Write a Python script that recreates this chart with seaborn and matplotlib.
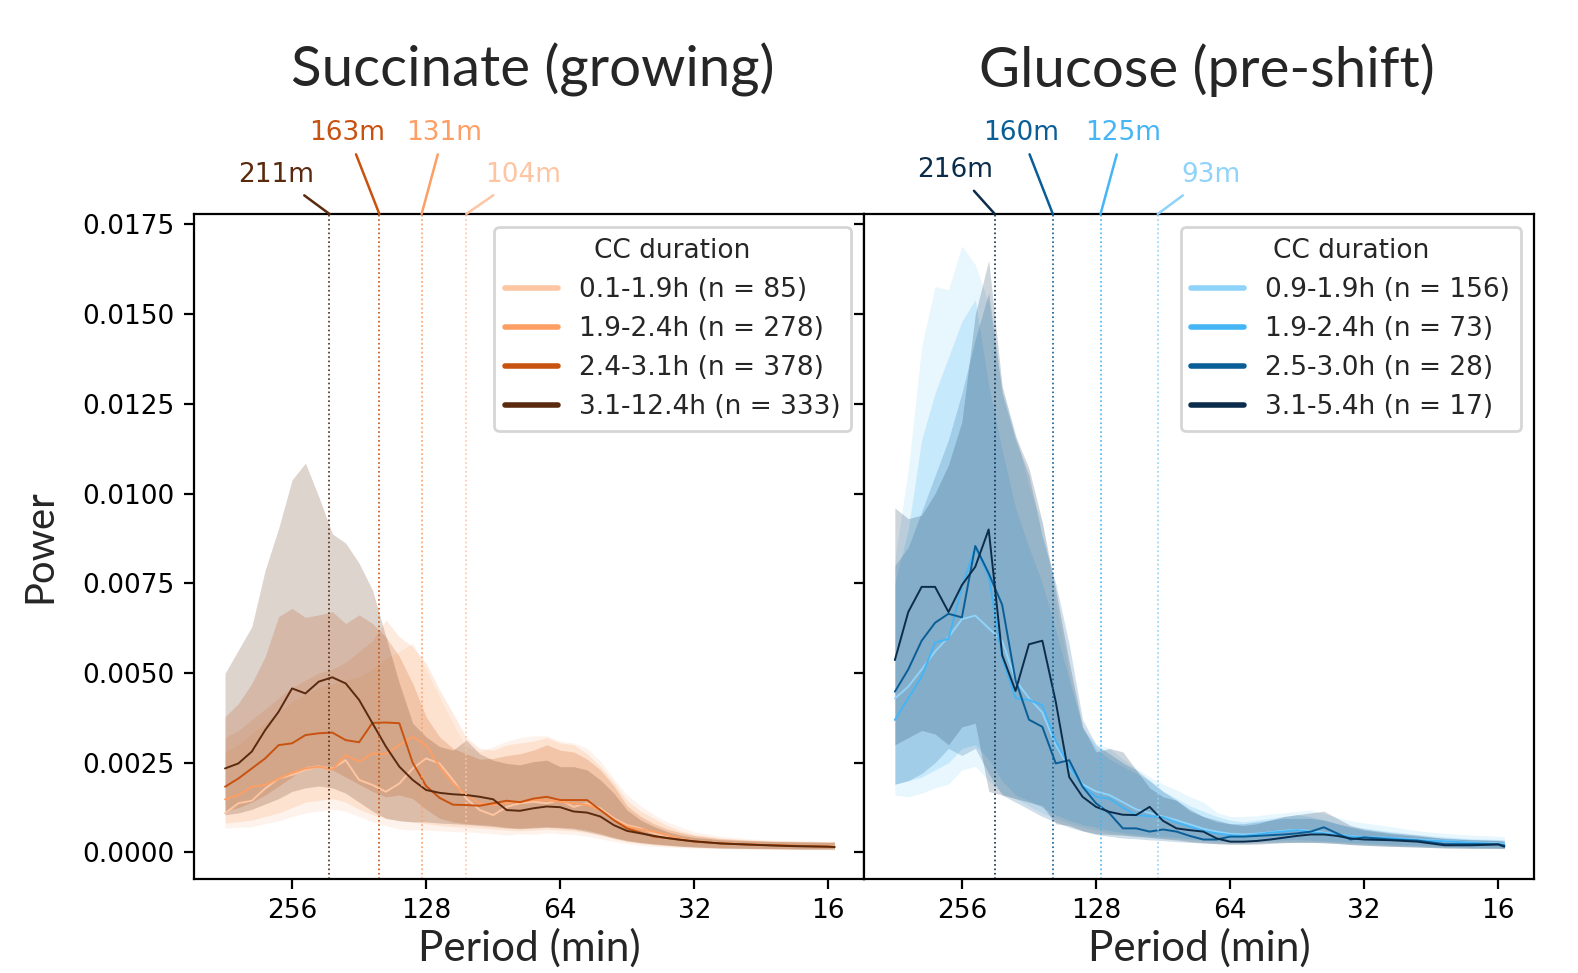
import numpy as np
import pandas as pd
import matplotlib
matplotlib.use("Agg")
import matplotlib.pyplot as plt
import seaborn as sns
from matplotlib.lines import Line2D
from matplotlib.ticker import FixedLocator, NullLocator, FormatStrFormatter

# ---------------- data (power values in units of 1e-3) ----------------
SCALE = 1e-3
periods = [362.0, 337.8, 315.2, 294.1, 274.4, 256.0, 238.9, 222.9, 207.9, 194.0,
           181.0, 168.9, 157.6, 147.0, 137.2, 128.0, 119.4, 111.4, 104.0, 97.0,
           90.5, 84.4, 78.8, 73.5, 68.6, 64.0, 59.7, 55.7, 52.0, 48.5,
           45.3, 42.2, 39.4, 36.8, 34.3, 32.0, 27.9, 24.3, 21.1, 18.4, 16.0, 15.5]
xticks = [256, 128, 64, 32, 16]

# Succinate (growing)
suc_labels = ["0.1-1.9h (n = 85)", "1.9-2.4h (n = 278)", "2.4-3.1h (n = 378)", "3.1-12.4h (n = 333)"]
suc_colors = ["#fdc5a2", "#fd9f64", "#c8520f", "#5a2a0e"]
suc_peaks = [104, 131, 163, 211]

s1_mean = [1.09, 1.37, 1.44, 1.78, 2.06, 2.16, 2.30, 2.39, 2.34, 2.57, 2.02, 1.88, 1.69, 1.92, 2.34, 2.62, 2.48, 2.02, 1.50, 1.18,
           1.04, 1.27, 1.37, 1.41, 1.37, 1.46, 1.27, 1.37, 1.23, 0.95, 0.76, 0.67, 0.53, 0.42, 0.35, 0.31, 0.26, 0.23, 0.20, 0.18, 0.17, 0.16]
s1_hi = [2.80, 3.00, 3.30, 3.60, 3.90, 4.20, 4.40, 4.60, 4.70, 4.80, 4.90, 5.10, 5.40, 5.60, 5.83, 5.08, 4.33, 3.60, 2.94, 2.80,
         2.95, 3.10, 3.20, 3.25, 3.25, 3.10, 3.05, 2.90, 2.55, 2.05, 1.60, 1.30, 1.05, 0.85, 0.70, 0.58, 0.45, 0.38, 0.34, 0.32, 0.31, 0.31]
s1_lo = [0.68, 0.70, 0.72, 0.80, 0.88, 1.00, 1.10, 1.15, 1.20, 1.15, 1.00, 0.85, 0.75, 0.65, 0.62, 0.62, 0.60, 0.58, 0.57, 0.55,
         0.52, 0.48, 0.52, 0.50, 0.55, 0.52, 0.50, 0.45, 0.38, 0.30, 0.25, 0.20, 0.17, 0.15, 0.13, 0.12, 0.10, 0.09, 0.08, 0.08, 0.07, 0.07]

s2_mean = [1.48, 1.60, 1.83, 1.88, 2.06, 2.22, 2.34, 2.39, 2.31, 2.71, 2.53, 2.76, 2.74, 2.99, 3.22, 2.99, 2.39, 1.92, 1.60, 1.37,
           1.32, 1.37, 1.41, 1.46, 1.46, 1.41, 1.37, 1.32, 1.18, 0.90, 0.72, 0.64, 0.58, 0.49, 0.38, 0.32, 0.26, 0.23, 0.20, 0.18, 0.17, 0.16]
s2_hi = [3.20, 3.40, 3.70, 4.00, 4.30, 4.60, 4.80, 5.00, 5.10, 5.30, 5.60, 5.90, 6.48, 6.01, 5.73, 5.27, 4.53, 3.88, 3.20, 2.90,
         2.85, 3.00, 3.05, 3.10, 3.20, 3.05, 3.00, 2.75, 2.40, 1.95, 1.45, 1.15, 0.95, 0.75, 0.60, 0.50, 0.40, 0.35, 0.32, 0.31, 0.30, 0.30]
s2_lo = [0.82, 0.85, 0.90, 1.00, 1.10, 1.25, 1.40, 1.45, 1.50, 1.40, 1.20, 1.05, 0.95, 0.90, 0.85, 0.80, 0.75, 0.72, 0.70, 0.68,
         0.65, 0.62, 0.60, 0.62, 0.65, 0.62, 0.60, 0.55, 0.47, 0.38, 0.30, 0.25, 0.21, 0.18, 0.16, 0.14, 0.12, 0.11, 0.10, 0.09, 0.09, 0.09]

s3_mean = [1.83, 2.06, 2.34, 2.62, 2.99, 3.04, 3.27, 3.32, 3.34, 3.13, 3.07, 3.61, 3.62, 3.60, 2.50, 1.85, 1.52, 1.33, 1.32, 1.30,
           1.37, 1.44, 1.40, 1.50, 1.55, 1.46, 1.46, 1.46, 1.18, 0.90, 0.67, 0.55, 0.44, 0.40, 0.35, 0.30, 0.25, 0.22, 0.20, 0.18, 0.16, 0.15]
s3_hi = [3.78, 4.15, 4.71, 5.46, 6.57, 6.80, 6.55, 6.62, 6.71, 6.38, 6.62, 6.38, 6.01, 5.46, 4.71, 3.78, 3.22, 2.90, 2.75, 2.60,
         2.62, 2.70, 2.75, 2.85, 3.00, 2.85, 2.80, 2.60, 2.30, 1.85, 1.30, 1.00, 0.80, 0.65, 0.55, 0.47, 0.38, 0.34, 0.31, 0.30, 0.29, 0.29]
s3_lo = [1.15, 1.25, 1.40, 1.60, 1.85, 2.10, 2.40, 2.45, 2.30, 2.10, 1.90, 1.70, 1.55, 1.60, 1.50, 1.20, 0.95, 0.85, 0.80, 0.78,
         0.75, 0.70, 0.68, 0.70, 0.72, 0.70, 0.68, 0.62, 0.53, 0.42, 0.34, 0.28, 0.24, 0.21, 0.18, 0.16, 0.13, 0.12, 0.11, 0.10, 0.10, 0.10]

s4_mean = [2.34, 2.48, 2.81, 3.41, 3.92, 4.57, 4.43, 4.76, 4.88, 4.71, 4.25, 3.60, 2.95, 2.39, 2.02, 1.74, 1.66, 1.62, 1.60, 1.55,
           1.48, 1.18, 1.16, 1.23, 1.28, 1.26, 1.14, 1.11, 1.00, 0.76, 0.60, 0.53, 0.46, 0.40, 0.35, 0.31, 0.25, 0.22, 0.19, 0.17, 0.16, 0.15]
s4_hi = [4.99, 5.64, 6.29, 7.87, 9.03, 10.38, 10.85, 9.91, 8.88, 8.62, 8.06, 7.31, 6.01, 4.71, 3.60, 3.22, 2.95, 2.85, 3.13, 2.75,
         2.57, 2.48, 2.44, 2.53, 2.57, 2.39, 2.39, 2.30, 2.02, 1.65, 1.18, 0.90, 0.72, 0.58, 0.48, 0.42, 0.35, 0.32, 0.30, 0.29, 0.28, 0.28]
s4_lo = [1.05, 1.10, 1.20, 1.35, 1.50, 1.70, 1.80, 1.85, 1.80, 1.65, 1.40, 1.15, 0.95, 0.88, 0.85, 0.85, 0.82, 0.80, 0.78, 0.75,
         0.72, 0.68, 0.66, 0.68, 0.70, 0.68, 0.65, 0.58, 0.50, 0.40, 0.32, 0.27, 0.23, 0.20, 0.17, 0.15, 0.12, 0.11, 0.10, 0.09, 0.09, 0.09]

# Glucose (pre-shift)
glu_labels = ["0.9-1.9h (n = 156)", "1.9-2.4h (n = 73)", "2.5-3.0h (n = 28)", "3.1-5.4h (n = 17)"]
glu_colors = ["#8fd3fa", "#45b5f5", "#0a5e98", "#0b2d4b"]
glu_peaks = [93, 125, 160, 216]

g1_mean = [4.29, 4.62, 5.10, 5.60, 6.00, 6.50, 6.60, 6.25, 5.90, 4.80, 4.30, 3.90, 3.00, 2.35, 1.90, 1.70, 1.60, 1.40, 1.20, 1.10,
           1.00, 0.90, 0.78, 0.66, 0.58, 0.52, 0.50, 0.52, 0.56, 0.60, 0.63, 0.60, 0.55, 0.50, 0.45, 0.43, 0.40, 0.36, 0.32, 0.28, 0.25, 0.23]
g1_hi = [8.15, 10.66, 14.1, 15.77, 15.68, 16.9, 16.38, 15.3, 12.9, 11.68, 10.2, 9.17, 7.0, 5.0, 3.4, 3.04, 2.9, 2.6, 2.35, 2.1,
         1.9, 1.74, 1.55, 1.4, 1.12, 1.0, 1.0, 1.02, 1.07, 1.1, 1.14, 1.18, 1.08, 0.98, 0.88, 0.82, 0.72, 0.6, 0.53, 0.48, 0.45, 0.44]
g1_lo = [1.6, 1.55, 1.65, 1.8, 1.9, 2.3, 2.4, 2.0, 1.65, 1.5, 1.3, 1.1, 0.95, 0.82, 0.7, 0.62, 0.55, 0.5, 0.45, 0.42,
         0.4, 0.37, 0.35, 0.33, 0.3, 0.3, 0.3, 0.3, 0.3, 0.3, 0.3, 0.3, 0.3, 0.28, 0.26, 0.24, 0.2, 0.17, 0.15, 0.13, 0.12, 0.12]

g2_mean = [3.69, 4.30, 4.90, 5.85, 5.95, 7.40, 8.50, 7.70, 5.40, 4.30, 4.25, 4.10, 3.10, 2.40, 1.85, 1.55, 1.50, 1.25, 1.04, 1.01,
           0.98, 0.83, 0.72, 0.60, 0.53, 0.48, 0.46, 0.50, 0.55, 0.58, 0.62, 0.57, 0.53, 0.49, 0.44, 0.42, 0.40, 0.34, 0.31, 0.27, 0.23, 0.21]
g2_hi = [7.5, 9.0, 11.5, 12.8, 13.8, 14.8, 15.4, 13.0, 11.2, 9.6, 8.5, 7.5, 6.2, 4.8, 3.5, 2.9, 2.6, 2.4, 2.2, 2.0,
         1.7, 1.5, 1.3, 1.15, 1.0, 0.9, 0.85, 0.9, 0.95, 1.0, 1.05, 1.0, 0.9, 0.8, 0.72, 0.68, 0.58, 0.5, 0.43, 0.38, 0.36, 0.35]
g2_lo = [1.9, 2.0, 2.1, 2.3, 2.5, 2.9, 3.0, 2.6, 2.0, 1.6, 1.45, 1.25, 1.05, 0.9, 0.78, 0.7, 0.62, 0.55, 0.5, 0.47,
         0.45, 0.42, 0.38, 0.35, 0.33, 0.32, 0.32, 0.33, 0.34, 0.35, 0.36, 0.34, 0.32, 0.3, 0.28, 0.26, 0.22, 0.19, 0.17, 0.15, 0.14, 0.14]

g3_mean = [4.48, 5.10, 5.90, 6.40, 6.65, 6.55, 8.54, 7.78, 6.90, 4.80, 3.70, 3.50, 2.48, 2.57, 1.83, 1.37, 1.09, 0.67, 0.67, 0.58,
           0.64, 0.58, 0.46, 0.36, 0.36, 0.44, 0.44, 0.46, 0.48, 0.50, 0.53, 0.58, 0.70, 0.53, 0.36, 0.42, 0.36, 0.33, 0.23, 0.23, 0.23, 0.19]
g3_hi = [8.0, 8.5, 9.5, 10.5, 11.5, 12.8, 14.3, 15.6, 12.8, 11.5, 10.5, 8.8, 7.5, 5.8, 3.7, 3.0, 2.75, 2.5, 2.3, 2.0,
         1.7, 1.45, 1.15, 1.0, 0.85, 0.8, 0.8, 0.85, 0.9, 0.95, 0.95, 0.95, 0.9, 0.8, 0.7, 0.62, 0.52, 0.45, 0.4, 0.36, 0.34, 0.33]
g3_lo = [1.9, 2.0, 2.2, 2.5, 2.9, 2.7, 2.9, 2.2, 1.6, 1.4, 1.2, 1.0, 0.85, 0.7, 0.6, 0.5, 0.45, 0.4, 0.38, 0.35,
         0.33, 0.3, 0.28, 0.26, 0.25, 0.25, 0.25, 0.26, 0.27, 0.28, 0.28, 0.28, 0.27, 0.25, 0.22, 0.2, 0.17, 0.15, 0.13, 0.12, 0.11, 0.11]

g4_mean = [5.36, 6.70, 7.40, 7.40, 6.70, 7.45, 7.96, 9.00, 5.50, 4.50, 5.80, 5.90, 4.20, 2.10, 1.55, 1.27, 1.13, 1.05, 1.04, 1.27,
           0.88, 0.67, 0.62, 0.58, 0.39, 0.30, 0.30, 0.32, 0.36, 0.41, 0.46, 0.50, 0.50, 0.46, 0.39, 0.36, 0.34, 0.30, 0.20, 0.20, 0.22, 0.16]
g4_hi = [9.6, 9.3, 9.4, 10.0, 10.8, 12.0, 15.0, 16.5, 13.0, 11.6, 10.7, 9.2, 7.3, 5.3, 3.5, 2.8, 2.9, 2.8, 2.3, 1.8,
         1.55, 1.45, 1.2, 1.0, 0.9, 0.8, 0.75, 0.8, 0.9, 1.0, 1.05, 1.1, 1.15, 0.95, 0.75, 0.65, 0.55, 0.48, 0.38, 0.35, 0.33, 0.30]
g4_lo = [3.0, 3.2, 3.4, 3.3, 3.0, 3.5, 3.6, 1.7, 1.6, 1.5, 1.4, 1.3, 0.8, 0.75, 0.6, 0.52, 0.5, 0.48, 0.45, 0.42,
         0.38, 0.35, 0.3, 0.27, 0.24, 0.22, 0.22, 0.23, 0.25, 0.27, 0.28, 0.28, 0.27, 0.25, 0.22, 0.2, 0.17, 0.15, 0.12, 0.11, 0.11, 0.10]

# ---------------- style ----------------
sns.set_theme(style="ticks")
plt.rcParams["font.family"] = ["DejaVu Sans"]
plt.rcParams.update({
    "font.size": 9.5, "xtick.labelsize": 9.5, "ytick.labelsize": 9.5,
    "legend.fontsize": 9.5, "legend.title_fontsize": 9.5,
    "axes.linewidth": 0.8, "axes.edgecolor": "black",
    "xtick.major.size": 3.5, "ytick.major.size": 3.5,
    "xtick.major.width": 0.8, "ytick.major.width": 0.8,
    "xtick.major.pad": 3.5, "ytick.major.pad": 3.5,
    "xtick.color": "black", "ytick.color": "black",
})
HEAD_FONT = ["Lato", "DejaVu Sans"]

fig, axes = plt.subplots(1, 2, figsize=(7.89, 4.865), dpi=200, sharey=True)
fig.subplots_adjust(left=0.1231, right=0.9721, bottom=0.0966, top=0.7801, wspace=0)

# annotation text offsets (pixels, from top-of-axes tick)
suc_offsets = [(56.8, 39.3), (22.0, 81.3), (-31.8, 81.3), (-53.2, 39.3)]
glu_offsets = [(53.1, 39.3), (22.1, 81.3), (-31.7, 81.3), (-39.8, 44.3)]


def draw_panel(ax, title, title_x, labels, colors, means, los, his, peaks, offsets):
    for c, lo, hi in zip(colors, los, his):
        ax.fill_between(periods, np.array(lo) * SCALE, np.array(hi) * SCALE,
                        color=c, alpha=0.2, lw=0)
    rows = []
    for lab, m in zip(labels, means):
        for p, v in zip(periods, m):
            rows.append((p, v * SCALE, lab))
    df = pd.DataFrame(rows, columns=["period", "power", "group"])
    sns.lineplot(data=df, x="period", y="power", hue="group", hue_order=labels,
                 palette=dict(zip(labels, colors)), ax=ax, lw=0.7,
                 errorbar=None, legend=False)
    ax.set_xscale("log", base=2)
    ax.set_xlim(424.4, 13.3)
    ax.xaxis.set_major_locator(FixedLocator(xticks))
    ax.xaxis.set_minor_locator(NullLocator())
    ax.set_xticklabels([str(t) for t in xticks])
    for p, c, (dx, dy) in zip(peaks, colors, offsets):
        ax.axvline(p, color=c, ls=":", lw=0.6)
        ax.annotate(f"{p}m", xy=(p, 1.0), xycoords=("data", "axes fraction"),
                    xytext=(dx, dy), textcoords="offset pixels",
                    ha="center", va="center", color=c, fontsize=9.5,
                    arrowprops=dict(arrowstyle="-", color=c, lw=0.9,
                                    shrinkA=1, shrinkB=0),
                    annotation_clip=False)
    handles = [Line2D([0], [0], color=c, lw=2.0) for c in colors]
    ax.legend(handles, labels, title="CC duration", loc="upper right",
              frameon=True, labelspacing=0.5)
    ax.text(title_x, 1.216, title, transform=ax.transAxes, ha="center", va="center",
            fontsize=20.3, family=HEAD_FONT)
    ax.set_xlabel("Period (min)", fontsize=15.2, family=HEAD_FONT)
    ax.xaxis.label.set_va("center")
    ax.xaxis.set_label_coords(0.5, -0.104)


draw_panel(axes[0], "Succinate (growing)", 0.505, suc_labels, suc_colors,
           [s1_mean, s2_mean, s3_mean, s4_mean], [s1_lo, s2_lo, s3_lo, s4_lo],
           [s1_hi, s2_hi, s3_hi, s4_hi], suc_peaks, suc_offsets)
draw_panel(axes[1], "Glucose (pre-shift)", 0.512, glu_labels, glu_colors,
           [g1_mean, g2_mean, g3_mean, g4_mean], [g1_lo, g2_lo, g3_lo, g4_lo],
           [g1_hi, g2_hi, g3_hi, g4_hi], glu_peaks, glu_offsets)

ax0 = axes[0]
ax0.set_ylim(-0.000741, 0.017792)
ax0.yaxis.set_major_locator(FixedLocator([0.0, 0.0025, 0.005, 0.0075, 0.01, 0.0125, 0.015, 0.0175]))
ax0.yaxis.set_major_formatter(FormatStrFormatter("%.4f"))
ax0.set_ylabel("Power", fontsize=14.4, family=HEAD_FONT)
ax0.yaxis.label.set_va("center")
ax0.yaxis.set_label_coords(-0.2305, 0.5)
axes[1].set_ylabel("")
axes[1].tick_params(axis="y", labelleft=False)

fig.savefig("out.png", dpi=200)
